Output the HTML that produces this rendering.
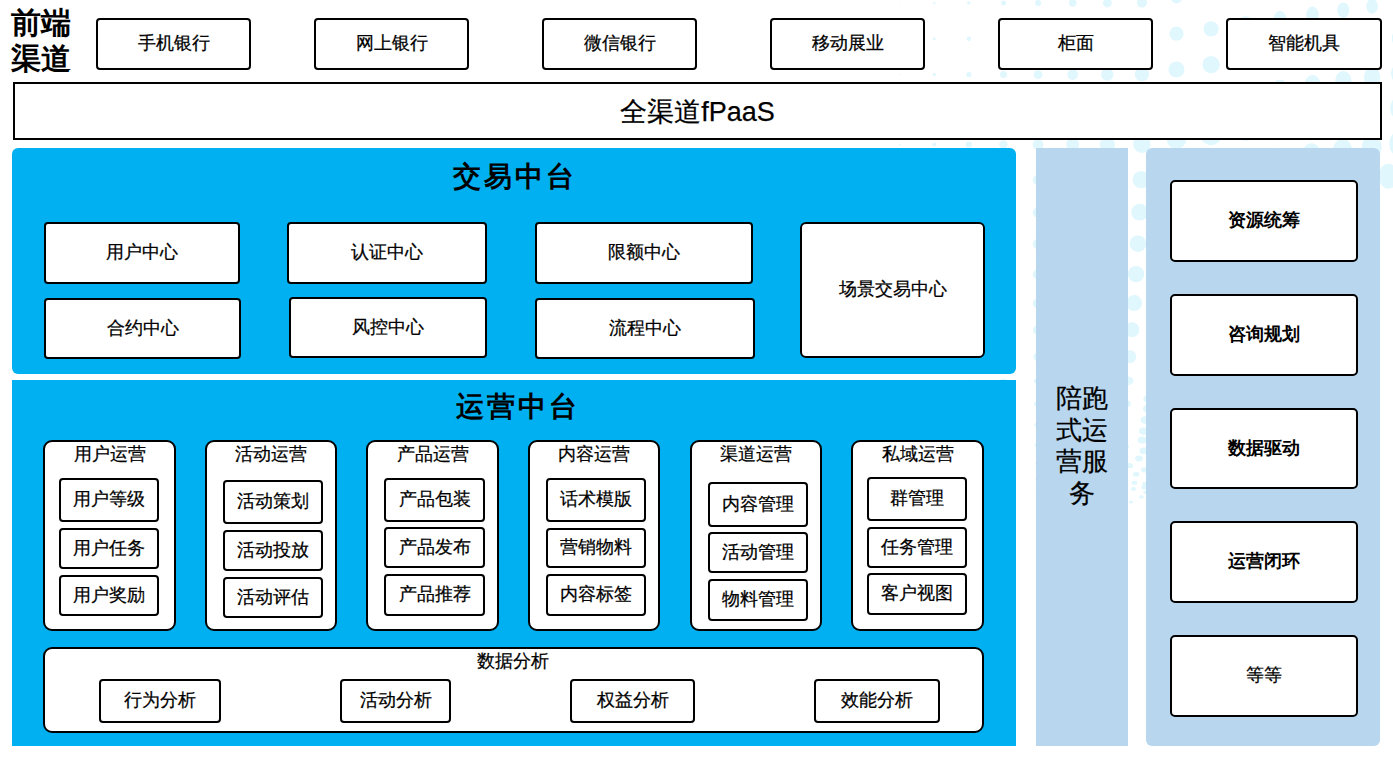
<!DOCTYPE html>
<html><head><meta charset="utf-8">
<style>
*{box-sizing:border-box;margin:0;padding:0}
html,body{width:1393px;height:759px;overflow:hidden;background:#fff}
body{position:relative;font-family:"Liberation Sans",sans-serif;color:#000;-webkit-text-stroke:0.25px #000}
.a{position:absolute}
.bx{position:absolute;border:2px solid #000;background:#fff;border-radius:4px;display:flex;align-items:center;justify-content:center;font-size:18px;line-height:1;white-space:nowrap;padding-bottom:2px}
.pn{position:absolute;background:#00b0f0}
.lb{position:absolute;background:#b8d7ef}
.grp{position:absolute;border:2px solid #000;background:#fff;border-radius:9px}
.gt{position:absolute;left:0;right:0;text-align:center;font-size:18px;line-height:1;top:2.5px}
.ttl{position:absolute;font-family:"Liberation Serif",serif;font-weight:bold;font-size:30px;line-height:36px}
.big{position:absolute;font-family:"Liberation Serif",serif;font-weight:bold;font-size:28px;line-height:1;text-align:center;letter-spacing:3px}
.rb{font-weight:bold;-webkit-text-stroke:0}
.ttl,.big{-webkit-text-stroke:0}
</style></head><body>
<svg class="a" style="left:0;top:0" width="1393" height="759"><g fill="#e0f7fe"><ellipse cx="899.7" cy="3.0" rx="0.5" ry="0.5"/><ellipse cx="934.3" cy="3.0" rx="1.2" ry="1.2"/><ellipse cx="968.9" cy="3.0" rx="1.8" ry="1.8"/><ellipse cx="1003.5" cy="3.0" rx="2.5" ry="2.5"/><ellipse cx="1038.1" cy="3.0" rx="3.1" ry="3.1"/><ellipse cx="1072.7" cy="3.0" rx="3.8" ry="3.8"/><ellipse cx="1107.3" cy="3.0" rx="4.4" ry="4.4"/><ellipse cx="1141.9" cy="2.7" rx="5.0" ry="5.0"/><ellipse cx="1176.5" cy="-2.1" rx="5.5" ry="5.5"/><ellipse cx="1211.1" cy="-7.0" rx="6.0" ry="6.0"/><ellipse cx="1245.7" cy="-11.8" rx="6.2" ry="6.2"/><ellipse cx="1280.0" cy="-16.6" rx="5.1" ry="6.6"/><ellipse cx="1312.5" cy="-21.2" rx="5.0" ry="6.4"/><ellipse cx="1343.3" cy="-25.5" rx="4.8" ry="6.2"/><ellipse cx="1372.1" cy="-29.5" rx="4.7" ry="6.1"/><ellipse cx="1399.1" cy="-33.3" rx="4.6" ry="5.9"/><ellipse cx="899.7" cy="38.8" rx="0.7" ry="0.7"/><ellipse cx="934.3" cy="38.8" rx="1.5" ry="1.5"/><ellipse cx="968.9" cy="38.8" rx="2.3" ry="2.3"/><ellipse cx="1003.5" cy="38.8" rx="3.1" ry="3.1"/><ellipse cx="1038.1" cy="38.8" rx="4.0" ry="4.0"/><ellipse cx="1072.7" cy="38.8" rx="4.8" ry="4.8"/><ellipse cx="1107.3" cy="38.8" rx="5.6" ry="5.6"/><ellipse cx="1141.9" cy="38.5" rx="6.5" ry="6.5"/><ellipse cx="1176.5" cy="33.7" rx="7.1" ry="7.1"/><ellipse cx="1211.1" cy="28.8" rx="7.6" ry="7.6"/><ellipse cx="1245.7" cy="24.0" rx="7.8" ry="7.8"/><ellipse cx="1280.0" cy="19.2" rx="6.4" ry="8.3"/><ellipse cx="1312.5" cy="14.6" rx="6.2" ry="8.0"/><ellipse cx="1343.3" cy="10.3" rx="6.0" ry="7.8"/><ellipse cx="1372.1" cy="6.3" rx="5.8" ry="7.5"/><ellipse cx="1399.1" cy="2.5" rx="5.7" ry="7.3"/><ellipse cx="899.7" cy="74.6" rx="0.7" ry="0.7"/><ellipse cx="934.3" cy="74.6" rx="1.7" ry="1.7"/><ellipse cx="968.9" cy="74.6" rx="2.6" ry="2.6"/><ellipse cx="1003.5" cy="74.6" rx="3.5" ry="3.5"/><ellipse cx="1038.1" cy="74.6" rx="4.4" ry="4.4"/><ellipse cx="1072.7" cy="74.6" rx="5.3" ry="5.3"/><ellipse cx="1107.3" cy="74.6" rx="6.2" ry="6.2"/><ellipse cx="1141.9" cy="74.3" rx="7.1" ry="7.1"/><ellipse cx="1176.5" cy="69.5" rx="8.0" ry="8.0"/><ellipse cx="1211.1" cy="64.6" rx="8.7" ry="8.7"/><ellipse cx="1245.7" cy="59.8" rx="9.1" ry="9.1"/><ellipse cx="1280.0" cy="55.0" rx="7.6" ry="9.8"/><ellipse cx="1312.5" cy="50.4" rx="7.5" ry="9.7"/><ellipse cx="1343.3" cy="46.1" rx="7.4" ry="9.6"/><ellipse cx="1372.1" cy="42.1" rx="7.3" ry="9.5"/><ellipse cx="1399.1" cy="38.3" rx="7.2" ry="9.4"/><ellipse cx="899.7" cy="110.0" rx="0.8" ry="0.8"/><ellipse cx="934.3" cy="110.0" rx="1.8" ry="1.8"/><ellipse cx="968.9" cy="110.0" rx="2.9" ry="2.9"/><ellipse cx="1003.5" cy="110.0" rx="3.9" ry="3.9"/><ellipse cx="1038.1" cy="110.0" rx="4.9" ry="4.9"/><ellipse cx="1072.7" cy="110.0" rx="5.9" ry="5.9"/><ellipse cx="1107.3" cy="110.0" rx="6.9" ry="6.9"/><ellipse cx="1141.9" cy="109.7" rx="7.9" ry="7.9"/><ellipse cx="1176.5" cy="104.9" rx="8.8" ry="8.8"/><ellipse cx="1211.1" cy="100.0" rx="9.7" ry="9.7"/><ellipse cx="1245.7" cy="95.2" rx="10.1" ry="10.1"/><ellipse cx="1280.0" cy="90.4" rx="8.4" ry="10.9"/><ellipse cx="1312.5" cy="85.8" rx="8.3" ry="10.8"/><ellipse cx="1343.3" cy="81.5" rx="8.2" ry="10.6"/><ellipse cx="1372.1" cy="77.5" rx="8.1" ry="10.5"/><ellipse cx="1399.1" cy="73.7" rx="8.0" ry="10.4"/><ellipse cx="899.7" cy="144.5" rx="0.9" ry="0.9"/><ellipse cx="934.3" cy="144.5" rx="2.0" ry="2.0"/><ellipse cx="968.9" cy="144.5" rx="3.1" ry="3.1"/><ellipse cx="1003.5" cy="144.5" rx="4.2" ry="4.2"/><ellipse cx="1038.1" cy="144.5" rx="5.4" ry="5.4"/><ellipse cx="1072.7" cy="144.5" rx="6.5" ry="6.5"/><ellipse cx="1107.3" cy="144.5" rx="7.6" ry="7.6"/><ellipse cx="1141.9" cy="144.2" rx="8.7" ry="8.7"/><ellipse cx="1176.5" cy="139.4" rx="9.7" ry="9.7"/><ellipse cx="1211.1" cy="134.5" rx="10.7" ry="10.7"/><ellipse cx="1245.7" cy="129.7" rx="11.1" ry="11.1"/><ellipse cx="1280.0" cy="124.9" rx="9.3" ry="12.0"/><ellipse cx="1312.5" cy="120.3" rx="9.2" ry="11.9"/><ellipse cx="1343.3" cy="116.0" rx="9.1" ry="11.7"/><ellipse cx="1372.1" cy="112.0" rx="9.0" ry="11.6"/><ellipse cx="1399.1" cy="108.2" rx="8.9" ry="11.5"/><ellipse cx="899.7" cy="180.0" rx="0.9" ry="0.9"/><ellipse cx="934.3" cy="180.0" rx="2.0" ry="2.0"/><ellipse cx="968.9" cy="180.0" rx="3.1" ry="3.1"/><ellipse cx="1003.5" cy="180.0" rx="4.2" ry="4.2"/><ellipse cx="1038.1" cy="180.0" rx="5.3" ry="5.3"/><ellipse cx="1072.5" cy="180.0" rx="6.4" ry="6.4"/><ellipse cx="1106.9" cy="180.0" rx="7.5" ry="7.5"/><ellipse cx="1141.1" cy="179.7" rx="8.6" ry="8.6"/><ellipse cx="1175.3" cy="174.9" rx="9.7" ry="9.7"/><ellipse cx="1209.7" cy="170.0" rx="10.8" ry="10.8"/><ellipse cx="1244.2" cy="165.2" rx="11.4" ry="11.4"/><ellipse cx="1278.6" cy="160.4" rx="9.7" ry="12.6"/><ellipse cx="1311.4" cy="155.8" rx="9.7" ry="12.6"/><ellipse cx="1342.5" cy="151.5" rx="9.8" ry="12.6"/><ellipse cx="1371.8" cy="147.5" rx="9.8" ry="12.6"/><ellipse cx="1399.1" cy="143.7" rx="9.8" ry="12.6"/><ellipse cx="899.7" cy="212.5" rx="0.9" ry="0.9"/><ellipse cx="934.3" cy="212.5" rx="2.0" ry="2.0"/><ellipse cx="968.9" cy="212.5" rx="3.1" ry="3.1"/><ellipse cx="1003.5" cy="212.5" rx="4.1" ry="4.1"/><ellipse cx="1038.0" cy="212.5" rx="5.2" ry="5.2"/><ellipse cx="1072.3" cy="212.5" rx="6.3" ry="6.3"/><ellipse cx="1106.2" cy="212.5" rx="7.4" ry="7.4"/><ellipse cx="1139.7" cy="212.2" rx="8.4" ry="8.4"/><ellipse cx="1173.1" cy="207.4" rx="9.5" ry="9.5"/><ellipse cx="1206.4" cy="202.5" rx="10.6" ry="10.6"/><ellipse cx="1239.7" cy="197.7" rx="11.3" ry="11.3"/><ellipse cx="1272.7" cy="192.9" rx="9.6" ry="12.5"/><ellipse cx="1304.1" cy="188.3" rx="9.6" ry="12.5"/><ellipse cx="1333.9" cy="184.0" rx="9.6" ry="12.5"/><ellipse cx="1361.9" cy="180.0" rx="9.7" ry="12.5"/><ellipse cx="1388.4" cy="176.2" rx="9.7" ry="12.5"/><ellipse cx="899.7" cy="244.0" rx="0.9" ry="0.9"/><ellipse cx="934.3" cy="244.0" rx="1.9" ry="1.9"/><ellipse cx="968.9" cy="244.0" rx="3.0" ry="3.0"/><ellipse cx="1003.5" cy="244.0" rx="4.1" ry="4.1"/><ellipse cx="1038.0" cy="244.0" rx="5.2" ry="5.2"/><ellipse cx="1072.0" cy="244.0" rx="6.2" ry="6.2"/><ellipse cx="1105.4" cy="244.0" rx="7.3" ry="7.3"/><ellipse cx="1138.0" cy="243.7" rx="8.3" ry="8.3"/><ellipse cx="1170.3" cy="238.9" rx="9.3" ry="9.3"/><ellipse cx="1202.1" cy="234.0" rx="10.3" ry="10.3"/><ellipse cx="1233.6" cy="229.2" rx="11.2" ry="11.2"/><ellipse cx="1264.6" cy="224.4" rx="9.5" ry="12.3"/><ellipse cx="1293.7" cy="219.8" rx="9.5" ry="12.3"/><ellipse cx="1320.8" cy="215.5" rx="9.6" ry="12.4"/><ellipse cx="1346.1" cy="211.5" rx="9.6" ry="12.4"/><ellipse cx="1369.4" cy="207.7" rx="9.6" ry="12.4"/><ellipse cx="899.6" cy="274.4" rx="0.9" ry="0.9"/><ellipse cx="934.2" cy="274.4" rx="1.9" ry="1.9"/><ellipse cx="968.8" cy="274.4" rx="3.0" ry="3.0"/><ellipse cx="1003.4" cy="274.4" rx="4.1" ry="4.1"/><ellipse cx="1037.9" cy="274.4" rx="5.1" ry="5.1"/><ellipse cx="1071.6" cy="274.4" rx="6.2" ry="6.2"/><ellipse cx="1104.4" cy="274.4" rx="7.2" ry="7.2"/><ellipse cx="1136.1" cy="274.1" rx="8.2" ry="8.2"/><ellipse cx="1167.1" cy="269.3" rx="9.1" ry="9.1"/><ellipse cx="1197.2" cy="264.4" rx="10.1" ry="10.1"/><ellipse cx="1226.6" cy="259.6" rx="11.0" ry="11.0"/><ellipse cx="1255.1" cy="254.8" rx="9.4" ry="12.2"/><ellipse cx="1281.3" cy="250.2" rx="9.4" ry="12.2"/><ellipse cx="1305.1" cy="245.9" rx="9.5" ry="12.2"/><ellipse cx="1326.6" cy="241.9" rx="9.5" ry="12.3"/><ellipse cx="1345.9" cy="238.1" rx="9.5" ry="12.3"/><ellipse cx="899.6" cy="303.4" rx="0.8" ry="0.8"/><ellipse cx="934.2" cy="303.4" rx="1.9" ry="1.9"/><ellipse cx="968.8" cy="303.4" rx="2.9" ry="2.9"/><ellipse cx="1003.4" cy="303.4" rx="4.0" ry="4.0"/><ellipse cx="1037.8" cy="303.4" rx="5.0" ry="5.0"/><ellipse cx="1071.2" cy="303.4" rx="6.1" ry="6.1"/><ellipse cx="1103.4" cy="303.4" rx="7.0" ry="7.0"/><ellipse cx="1134.1" cy="303.1" rx="8.0" ry="8.0"/><ellipse cx="1163.6" cy="298.3" rx="8.9" ry="8.9"/><ellipse cx="1191.9" cy="293.4" rx="9.8" ry="9.8"/><ellipse cx="1219.0" cy="288.6" rx="10.7" ry="10.7"/><ellipse cx="1244.7" cy="283.8" rx="11.0" ry="11.0"/><ellipse cx="1267.6" cy="279.2" rx="9.4" ry="12.1"/><ellipse cx="1287.7" cy="274.9" rx="9.4" ry="12.1"/><ellipse cx="1305.0" cy="270.9" rx="9.4" ry="12.1"/><ellipse cx="1319.5" cy="267.1" rx="9.4" ry="12.2"/><ellipse cx="899.6" cy="330.0" rx="0.8" ry="0.8"/><ellipse cx="934.2" cy="330.0" rx="1.8" ry="1.8"/><ellipse cx="968.8" cy="330.0" rx="2.7" ry="2.7"/><ellipse cx="1003.4" cy="330.0" rx="3.7" ry="3.7"/><ellipse cx="1037.7" cy="330.0" rx="4.7" ry="4.7"/><ellipse cx="1070.8" cy="330.0" rx="5.6" ry="5.6"/><ellipse cx="1102.4" cy="330.0" rx="6.5" ry="6.5"/><ellipse cx="1132.0" cy="329.7" rx="7.4" ry="7.4"/><ellipse cx="1160.2" cy="324.9" rx="8.3" ry="8.3"/><ellipse cx="1186.6" cy="320.0" rx="9.2" ry="9.2"/><ellipse cx="1211.3" cy="315.2" rx="10.0" ry="10.0"/><ellipse cx="1234.1" cy="310.4" rx="10.6" ry="10.6"/><ellipse cx="1253.7" cy="305.8" rx="9.2" ry="11.8"/><ellipse cx="1270.0" cy="301.5" rx="9.3" ry="12.0"/><ellipse cx="1282.8" cy="297.5" rx="9.3" ry="12.0"/><ellipse cx="1292.4" cy="293.7" rx="9.3" ry="12.0"/><ellipse cx="899.6" cy="357.0" rx="0.7" ry="0.7"/><ellipse cx="934.2" cy="357.0" rx="1.6" ry="1.6"/><ellipse cx="968.8" cy="357.0" rx="2.4" ry="2.4"/><ellipse cx="1003.4" cy="357.0" rx="3.3" ry="3.3"/><ellipse cx="1037.6" cy="357.0" rx="4.2" ry="4.2"/><ellipse cx="1070.4" cy="357.0" rx="5.0" ry="5.0"/><ellipse cx="1101.3" cy="357.0" rx="5.8" ry="5.8"/><ellipse cx="1129.8" cy="356.7" rx="6.5" ry="6.5"/><ellipse cx="1156.4" cy="351.9" rx="7.3" ry="7.3"/><ellipse cx="1180.7" cy="347.0" rx="8.2" ry="8.2"/><ellipse cx="1202.8" cy="342.2" rx="8.9" ry="8.9"/><ellipse cx="1222.6" cy="337.4" rx="9.6" ry="9.6"/><ellipse cx="1238.4" cy="332.8" rx="10.0" ry="10.0"/><ellipse cx="1250.3" cy="328.5" rx="8.6" ry="11.2"/><ellipse cx="1258.3" cy="324.5" rx="8.7" ry="11.3"/><ellipse cx="1262.3" cy="320.7" rx="8.8" ry="11.4"/><ellipse cx="899.6" cy="381.0" rx="0.6" ry="0.5"/><ellipse cx="934.2" cy="381.0" rx="1.4" ry="1.0"/><ellipse cx="968.8" cy="381.0" rx="2.2" ry="1.6"/><ellipse cx="1003.4" cy="381.0" rx="3.0" ry="2.2"/><ellipse cx="1037.6" cy="381.0" rx="3.7" ry="2.8"/><ellipse cx="1070.0" cy="381.0" rx="4.5" ry="3.3"/><ellipse cx="1100.2" cy="381.0" rx="5.1" ry="3.8"/><ellipse cx="1127.7" cy="380.7" rx="5.8" ry="4.3"/><ellipse cx="1152.8" cy="375.9" rx="6.5" ry="6.5"/><ellipse cx="1175.1" cy="371.0" rx="7.2" ry="7.2"/><ellipse cx="1194.8" cy="366.2" rx="7.8" ry="7.8"/><ellipse cx="1211.5" cy="361.4" rx="8.4" ry="8.4"/><ellipse cx="1223.9" cy="356.8" rx="8.9" ry="8.9"/><ellipse cx="1231.6" cy="352.5" rx="9.2" ry="9.2"/><ellipse cx="1234.8" cy="348.5" rx="9.4" ry="9.4"/><ellipse cx="1233.5" cy="344.7" rx="9.5" ry="9.5"/><ellipse cx="899.6" cy="404.0" rx="0.6" ry="0.4"/><ellipse cx="934.2" cy="404.0" rx="1.3" ry="0.9"/><ellipse cx="968.8" cy="404.0" rx="2.0" ry="1.5"/><ellipse cx="1003.4" cy="404.0" rx="2.7" ry="2.0"/><ellipse cx="1037.5" cy="404.0" rx="3.4" ry="2.5"/><ellipse cx="1069.6" cy="404.0" rx="4.0" ry="3.0"/><ellipse cx="1099.2" cy="404.0" rx="4.6" ry="3.5"/><ellipse cx="1125.6" cy="403.7" rx="5.2" ry="3.9"/><ellipse cx="1149.2" cy="398.9" rx="5.8" ry="4.3"/><ellipse cx="1169.5" cy="394.0" rx="6.3" ry="4.8"/><ellipse cx="1186.7" cy="389.2" rx="6.8" ry="5.1"/><ellipse cx="1200.4" cy="384.4" rx="7.3" ry="5.5"/><ellipse cx="1209.1" cy="379.8" rx="7.6" ry="7.6"/><ellipse cx="1212.7" cy="375.5" rx="7.9" ry="7.9"/><ellipse cx="1211.0" cy="371.5" rx="8.0" ry="8.0"/><ellipse cx="1204.2" cy="367.7" rx="8.0" ry="8.0"/><ellipse cx="899.5" cy="425.0" rx="0.5" ry="0.4"/><ellipse cx="934.1" cy="425.0" rx="1.1" ry="0.9"/><ellipse cx="968.7" cy="425.0" rx="1.8" ry="1.3"/><ellipse cx="1003.3" cy="425.0" rx="2.4" ry="1.8"/><ellipse cx="1037.4" cy="425.0" rx="3.0" ry="2.3"/><ellipse cx="1069.3" cy="425.0" rx="3.6" ry="2.7"/><ellipse cx="1098.2" cy="425.0" rx="4.2" ry="3.1"/><ellipse cx="1123.6" cy="424.7" rx="4.6" ry="3.5"/><ellipse cx="1145.7" cy="419.9" rx="5.2" ry="3.9"/><ellipse cx="1164.2" cy="415.0" rx="5.7" ry="4.2"/><ellipse cx="1179.0" cy="410.2" rx="6.1" ry="4.6"/><ellipse cx="1189.7" cy="405.4" rx="6.4" ry="4.8"/><ellipse cx="1195.0" cy="400.8" rx="6.7" ry="5.0"/><ellipse cx="1194.5" cy="396.5" rx="6.8" ry="5.1"/><ellipse cx="1188.2" cy="392.5" rx="6.8" ry="5.1"/><ellipse cx="1176.1" cy="388.7" rx="6.6" ry="5.0"/><ellipse cx="899.5" cy="445.0" rx="0.5" ry="0.3"/><ellipse cx="934.1" cy="445.0" rx="1.0" ry="0.8"/><ellipse cx="968.7" cy="445.0" rx="1.6" ry="1.2"/><ellipse cx="1003.3" cy="445.0" rx="2.2" ry="1.6"/><ellipse cx="1037.3" cy="445.0" rx="2.7" ry="2.1"/><ellipse cx="1068.9" cy="445.0" rx="3.3" ry="2.4"/><ellipse cx="1097.2" cy="445.0" rx="3.7" ry="2.8"/><ellipse cx="1121.6" cy="444.7" rx="4.1" ry="3.1"/><ellipse cx="1142.3" cy="439.9" rx="4.6" ry="3.5"/><ellipse cx="1158.9" cy="435.0" rx="5.0" ry="3.8"/><ellipse cx="1171.3" cy="430.2" rx="5.4" ry="4.0"/><ellipse cx="1179.2" cy="425.4" rx="5.7" ry="4.2"/><ellipse cx="1181.0" cy="420.8" rx="5.8" ry="4.4"/><ellipse cx="1176.5" cy="416.5" rx="5.8" ry="4.4"/><ellipse cx="1165.6" cy="412.5" rx="5.8" ry="4.3"/><ellipse cx="1148.3" cy="408.7" rx="5.5" ry="4.1"/><ellipse cx="934.1" cy="463.6" rx="0.9" ry="0.6"/><ellipse cx="968.7" cy="463.6" rx="1.3" ry="1.0"/><ellipse cx="1003.3" cy="463.6" rx="1.8" ry="1.4"/><ellipse cx="1037.3" cy="463.6" rx="2.3" ry="1.7"/><ellipse cx="1068.5" cy="463.6" rx="2.7" ry="2.1"/><ellipse cx="1096.2" cy="463.6" rx="3.1" ry="2.3"/><ellipse cx="1119.7" cy="463.3" rx="3.5" ry="2.6"/><ellipse cx="1139.0" cy="458.5" rx="3.9" ry="3.0"/><ellipse cx="1153.8" cy="453.6" rx="4.4" ry="3.3"/><ellipse cx="1164.0" cy="448.8" rx="4.7" ry="3.6"/><ellipse cx="1169.0" cy="444.0" rx="5.0" ry="3.7"/><ellipse cx="1167.5" cy="439.4" rx="5.1" ry="3.8"/><ellipse cx="1159.1" cy="435.1" rx="5.0" ry="3.8"/><ellipse cx="1143.8" cy="431.1" rx="4.9" ry="3.6"/><ellipse cx="1121.4" cy="427.3" rx="4.5" ry="3.4"/><ellipse cx="934.1" cy="479.4" rx="0.7" ry="0.5"/><ellipse cx="968.7" cy="479.4" rx="1.1" ry="0.8"/><ellipse cx="1003.3" cy="479.4" rx="1.5" ry="1.1"/><ellipse cx="1037.2" cy="479.4" rx="1.9" ry="1.4"/><ellipse cx="1068.2" cy="479.4" rx="2.2" ry="1.7"/><ellipse cx="1095.4" cy="479.4" rx="2.5" ry="1.9"/><ellipse cx="1118.0" cy="479.1" rx="2.8" ry="2.1"/><ellipse cx="1136.2" cy="474.3" rx="3.2" ry="2.4"/><ellipse cx="1149.4" cy="469.4" rx="3.6" ry="2.7"/><ellipse cx="1157.5" cy="464.6" rx="3.9" ry="2.9"/><ellipse cx="1160.2" cy="459.8" rx="4.2" ry="3.1"/><ellipse cx="1155.7" cy="455.2" rx="4.3" ry="3.3"/><ellipse cx="1143.9" cy="450.9" rx="4.3" ry="3.3"/><ellipse cx="1124.7" cy="446.9" rx="4.1" ry="3.1"/><ellipse cx="1097.8" cy="443.1" rx="3.8" ry="2.8"/><ellipse cx="934.1" cy="494.0" rx="0.6" ry="0.4"/><ellipse cx="968.7" cy="494.0" rx="0.9" ry="0.7"/><ellipse cx="1003.3" cy="494.0" rx="1.2" ry="0.9"/><ellipse cx="1037.1" cy="494.0" rx="1.5" ry="1.1"/><ellipse cx="1067.9" cy="494.0" rx="1.8" ry="1.3"/><ellipse cx="1094.6" cy="494.0" rx="2.0" ry="1.5"/><ellipse cx="1116.4" cy="493.7" rx="2.2" ry="1.7"/><ellipse cx="1133.5" cy="488.9" rx="2.6" ry="1.9"/><ellipse cx="1145.2" cy="484.0" rx="2.9" ry="2.2"/><ellipse cx="1151.4" cy="479.2" rx="3.2" ry="2.4"/><ellipse cx="1151.8" cy="474.4" rx="3.4" ry="2.6"/><ellipse cx="1144.6" cy="469.8" rx="3.5" ry="2.6"/><ellipse cx="1129.5" cy="465.5" rx="3.5" ry="2.6"/><ellipse cx="1106.6" cy="461.5" rx="3.3" ry="2.5"/><ellipse cx="1075.5" cy="457.7" rx="3.0" ry="2.3"/><ellipse cx="968.7" cy="507.0" rx="0.6" ry="0.4"/><ellipse cx="1003.3" cy="507.0" rx="0.8" ry="0.6"/><ellipse cx="1037.1" cy="507.0" rx="1.0" ry="0.8"/><ellipse cx="1067.6" cy="507.0" rx="1.2" ry="0.9"/><ellipse cx="1093.9" cy="507.0" rx="1.4" ry="1.0"/><ellipse cx="1115.0" cy="506.7" rx="1.5" ry="1.1"/><ellipse cx="1131.0" cy="501.9" rx="2.0" ry="1.5"/><ellipse cx="1141.4" cy="497.0" rx="2.3" ry="1.7"/><ellipse cx="1145.9" cy="492.2" rx="2.6" ry="1.9"/><ellipse cx="1144.1" cy="487.4" rx="2.7" ry="2.1"/><ellipse cx="1134.4" cy="482.8" rx="2.8" ry="2.1"/><ellipse cx="1116.5" cy="478.5" rx="2.8" ry="2.1"/><ellipse cx="1090.1" cy="474.5" rx="2.7" ry="2.0"/><ellipse cx="1055.2" cy="470.7" rx="2.3" ry="1.8"/></g></svg>

<div class="ttl" style="left:11px;top:5px">前端<br>渠道</div>

<div class="bx" style="left:96px;top:18px;width:155px;height:52px">手机银行</div>
<div class="bx" style="left:314px;top:18px;width:155px;height:52px">网上银行</div>
<div class="bx" style="left:542px;top:18px;width:155px;height:52px">微信银行</div>
<div class="bx" style="left:770px;top:18px;width:155px;height:52px">移动展业</div>
<div class="bx" style="left:998px;top:18px;width:155px;height:52px">柜面</div>
<div class="bx" style="left:1226px;top:18px;width:156px;height:52px">智能机具</div>

<div class="bx" style="left:13px;top:82px;width:1369px;height:58px;border-radius:0;font-size:27px;padding-bottom:0;padding-top:2px">全渠道fPaaS</div>

<!-- 交易中台 -->
<div class="pn" style="left:12px;top:148px;width:1004px;height:226px;border-radius:6px"></div>
<div class="big" style="left:13px;top:163px;width:1004px">交易中台</div>
<div class="bx" style="left:44px;top:222px;width:196px;height:62px">用户中心</div>
<div class="bx" style="left:44px;top:298px;width:197px;height:61px">合约中心</div>
<div class="bx" style="left:287px;top:222px;width:200px;height:62px">认证中心</div>
<div class="bx" style="left:289px;top:297px;width:198px;height:61px">风控中心</div>
<div class="bx" style="left:535px;top:222px;width:218px;height:62px">限额中心</div>
<div class="bx" style="left:535px;top:298px;width:220px;height:61px">流程中心</div>
<div class="bx" style="left:800px;top:222px;width:185px;height:136px;border-radius:6px">场景交易中心</div>

<!-- 运营中台 -->
<div class="pn" style="left:12px;top:380px;width:1004px;height:366px"></div>
<div class="big" style="left:16px;top:393px;width:1004px">运营中台</div>

<div class="grp" style="left:43px;top:440px;width:133px;height:191px"><div class="gt">用户运营</div></div>
<div class="bx" style="left:59px;top:478px;width:100px;height:44px">用户等级</div>
<div class="bx" style="left:59px;top:528px;width:100px;height:41px">用户任务</div>
<div class="bx" style="left:59px;top:575px;width:100px;height:41px">用户奖励</div>

<div class="grp" style="left:205px;top:440px;width:132px;height:191px"><div class="gt">活动运营</div></div>
<div class="bx" style="left:223px;top:480px;width:100px;height:44px">活动策划</div>
<div class="bx" style="left:223px;top:530px;width:100px;height:41px">活动投放</div>
<div class="bx" style="left:223px;top:577px;width:100px;height:41px">活动评估</div>

<div class="grp" style="left:366px;top:440px;width:133px;height:191px"><div class="gt">产品运营</div></div>
<div class="bx" style="left:384px;top:478px;width:101px;height:44px">产品包装</div>
<div class="bx" style="left:384px;top:527px;width:101px;height:41px">产品发布</div>
<div class="bx" style="left:384px;top:574px;width:101px;height:42px">产品推荐</div>

<div class="grp" style="left:528px;top:440px;width:132px;height:191px"><div class="gt">内容运营</div></div>
<div class="bx" style="left:546px;top:478px;width:100px;height:44px">话术模版</div>
<div class="bx" style="left:546px;top:528px;width:100px;height:40px">营销物料</div>
<div class="bx" style="left:546px;top:574px;width:100px;height:42px">内容标签</div>

<div class="grp" style="left:690px;top:440px;width:132px;height:191px"><div class="gt">渠道运营</div></div>
<div class="bx" style="left:708px;top:482px;width:100px;height:45px">内容管理</div>
<div class="bx" style="left:708px;top:532px;width:100px;height:41px">活动管理</div>
<div class="bx" style="left:708px;top:579px;width:100px;height:42px">物料管理</div>

<div class="grp" style="left:851px;top:440px;width:133px;height:191px"><div class="gt">私域运营</div></div>
<div class="bx" style="left:867px;top:477px;width:100px;height:44px">群管理</div>
<div class="bx" style="left:867px;top:527px;width:100px;height:41px">任务管理</div>
<div class="bx" style="left:867px;top:573px;width:100px;height:42px">客户视图</div>

<div class="grp" style="left:43px;top:647px;width:941px;height:86px"><div class="gt" style="top:3px;left:-2px">数据分析</div></div>
<div class="bx" style="left:99px;top:679px;width:122px;height:44px">行为分析</div>
<div class="bx" style="left:340px;top:679px;width:111px;height:44px">活动分析</div>
<div class="bx" style="left:570px;top:679px;width:125px;height:44px">权益分析</div>
<div class="bx" style="left:814px;top:679px;width:126px;height:44px">效能分析</div>

<!-- 陪跑 -->
<div class="lb" style="left:1036px;top:148px;width:92px;height:598px"></div>
<div class="a" style="left:1036px;top:383px;width:92px;text-align:center;font-size:26px;line-height:31.6px">陪跑<br>式运<br>营服<br>务</div>

<!-- right -->
<div class="lb" style="left:1146px;top:148px;width:234px;height:598px;border-radius:6px"></div>
<div class="bx rb" style="left:1170px;top:180px;width:188px;height:82px;border-radius:5px">资源统筹</div>
<div class="bx rb" style="left:1170px;top:294px;width:188px;height:82px;border-radius:5px">咨询规划</div>
<div class="bx rb" style="left:1170px;top:408px;width:188px;height:81px;border-radius:5px">数据驱动</div>
<div class="bx rb" style="left:1170px;top:521px;width:188px;height:82px;border-radius:5px">运营闭环</div>
<div class="bx" style="left:1170px;top:635px;width:188px;height:82px;border-radius:5px">等等</div>
</body></html>
